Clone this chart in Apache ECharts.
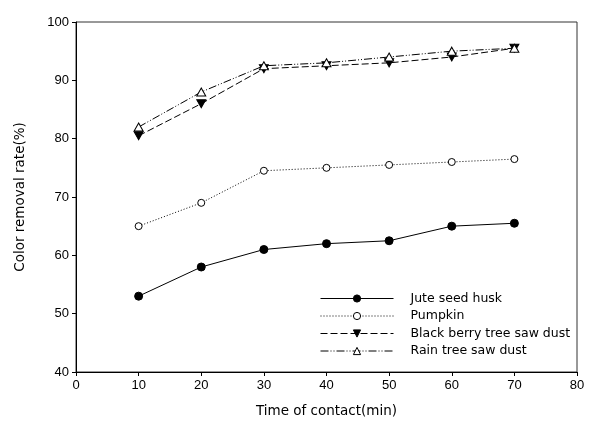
<!DOCTYPE html>
<html><head><meta charset="utf-8">
<script src="https://cdn.jsdelivr.net/npm/echarts@6/dist/echarts.min.js"></script>
<style>html,body{margin:0;padding:0;background:#fff}#c{width:589px;height:429px}</style>
</head><body><div id="c"></div>
<script>
const times = [10, 20, 30, 40, 50, 60, 70];
const juteSeedHusk = [53, 58, 61, 62, 62.5, 65, 65.5];
const pumpkin = [65, 69, 74.5, 75, 75.5, 76, 76.5];
const blackBerry = [80.5, 86, 92, 92.5, 93, 94, 95.5];
const rainTree = [82, 88, 92.5, 93, 94, 95, 95.5];
const seriesNames = ['Jute seed husk', 'Pumpkin', 'Black berry tree saw dust', 'Rain tree saw dust'];

const pair = arr => times.map((t, i) => [t, arr[i]]);
const font = 'Liberation Sans';
const wide = 'DejaVu Sans';
const triDown = 'path://M0,0 L10,0 L5,9 Z';
const triUp = 'path://M5,0 L10,9 L0,9 Z';

const chart = echarts.init(document.getElementById('c'));
chart.setOption({
  animation: false,
  backgroundColor: '#fff',
  textStyle: { fontFamily: font },
  grid: { left: 76, right: 12, top: 22, bottom: 57, show: true, borderColor: '#333', borderWidth: 1 },
  legend: {
    orient: 'vertical', left: 315, top: 287,
    itemWidth: 73, itemHeight: 9, itemGap: 4.5,
    lineStyle: { width: 1 },
    itemStyle: { borderWidth: 1 },
    textStyle: { fontFamily: wide, fontSize: 12.5, lineHeight: 13, color: '#000', padding: [0, 0, 0, 12] },
    data: seriesNames
  },
  xAxis: {
    type: 'value', min: 0, max: 80, interval: 10,
    name: 'Time of contact(min)', nameLocation: 'middle', nameGap: 32,
    nameTextStyle: { fontFamily: wide, fontSize: 13.5, color: '#000' },
    axisLine: { lineStyle: { color: '#000' } },
    axisTick: { show: true, length: 4, lineStyle: { color: '#000' } },
    axisLabel: { fontFamily: font, fontSize: 13, color: '#000', margin: 7 },
    splitLine: { show: false }
  },
  yAxis: {
    type: 'value', min: 40, max: 100, interval: 10,
    name: 'Color removal rate(%)', nameLocation: 'middle', nameGap: 49, nameRotate: 90,
    nameTextStyle: { fontFamily: wide, fontSize: 13.5, color: '#000' },
    axisLine: { show: true, lineStyle: { color: '#000' } },
    axisTick: { show: true, length: 4, lineStyle: { color: '#000' } },
    axisLabel: { fontFamily: font, fontSize: 13, color: '#000', margin: 7 },
    splitLine: { show: false }
  },
  series: [
    { name: seriesNames[0], type: 'line', data: pair(juteSeedHusk),
      symbol: 'circle', symbolSize: 8,
      itemStyle: { color: '#000', borderColor: '#000' },
      lineStyle: { color: '#000', width: 1, type: 'solid' } },
    { name: seriesNames[1], type: 'line', data: pair(pumpkin),
      symbol: 'circle', symbolSize: 7,
      itemStyle: { color: '#fff', borderColor: '#000', borderWidth: 1 },
      lineStyle: { color: '#000', width: 1, type: [1, 2] } },
    { name: seriesNames[2], type: 'line', data: pair(blackBerry),
      symbol: triDown, symbolSize: [9, 8],
      itemStyle: { color: '#000', borderColor: '#000' },
      lineStyle: { color: '#000', width: 1, type: [7, 3] } },
    { name: seriesNames[3], type: 'line', data: pair(rainTree),
      symbol: triUp, symbolSize: [9, 8],
      itemStyle: { color: '#fff', borderColor: '#000', borderWidth: 1 },
      lineStyle: { color: '#000', width: 1, type: [8, 2, 1, 2, 1, 2] } }
  ]
});
</script></body></html>
